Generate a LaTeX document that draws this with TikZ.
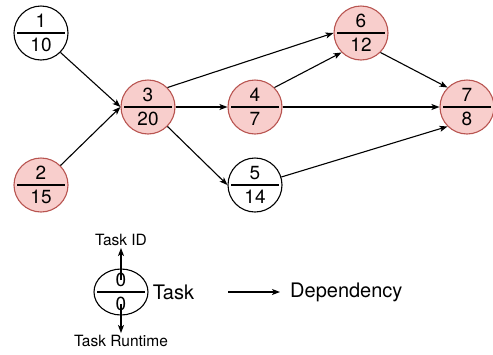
\documentclass[tikz,border=0pt]{standalone}
\usepackage{fontspec}
\setmainfont{TeX Gyre Heros}
\usetikzlibrary{arrows.meta,positioning,shapes.geometric}
\definecolor{critfill}{HTML}{F8CECC}
\definecolor{critline}{HTML}{B85450}
\tikzset{
  task/.style={draw,circle,minimum size=54pt,inner sep=0pt,line width=1.1pt},
  crittask/.style={task,fill=critfill,draw=critline},
  num/.style={inner sep=0pt,font=\fontsize{19}{19}\selectfont},
  dep/.style={-{Stealth[length=8pt,width=6pt,inset=2pt]},line width=1.1pt},
  smalltext/.style={inner sep=2pt,font=\fontsize{15.5}{15.5}\selectfont},
  bigtext/.style={inner sep=3pt,font=\fontsize{20}{20}\selectfont},
}
\begin{document}
\begin{tikzpicture}[x=1pt,y=-1pt]
  \useasboundingbox (0,0) rectangle (493,354);

  \foreach \id/\x/\y/\rt/\kind in {1/41/33/10/task, 2/41/185/15/crittask,
      3/148/107/20/crittask, 4/255/107/7/crittask, 5/255/185/14/task,
      6/361/33/12/crittask, 7/467/107/8/crittask}{
    \node[\kind] (t\id) at (\x,\y) {};
    \draw[line width=1.1pt] ([xshift=4pt]t\id.west) -- ([xshift=-4pt]t\id.east);
    \node[num] (id\id) at ([yshift=12pt]t\id.center) {\id};
    \node[num] (rt\id) at ([yshift=-11.5pt]t\id.center) {\rt};
  }

  \draw[dep] (t1.south east) -- (t3.west);
  \draw[dep] (t2.north east) -- (t3.west);
  \draw[dep] (t3.north east) -- (t6.west);
  \draw[dep] (t3.east) -- (t4.west);
  \draw[dep] (t3.south east) -- (t5.west);
  \draw[dep] (t4.north east) -- (t6.south west);
  \draw[dep] (t4.east) -- (t7.west);
  \draw[dep] (t6.south east) -- (t7.north west);
  \draw[dep] (t5) -- (t7.south west);

  \node[draw,ellipse,minimum width=54pt,minimum height=46pt,inner sep=0pt,line width=1.1pt] (lg) at (121,292) {};
  \draw[line width=1.1pt] ([xshift=4pt]lg.west) -- ([xshift=-4pt]lg.east);
  \node[num] (lgid) at ([yshift=12pt]lg.center) {0};
  \node[num] (lgrt) at ([yshift=-12pt]lg.center) {0};
  \node[smalltext] (idtext) at (121,240) {Task ID};
  \node[smalltext] (rttext) at (121,341) {Task Runtime};
  \draw[dep] (lgid.center) -- (idtext.south);
  \draw[dep] (lgrt.center) -- (rttext.north);
  \node[bigtext,right=1pt of lg] (tasktext) {Task};

  \coordinate (depa) at (228,292);
  \coordinate (depb) at (280,292);
  \draw[dep] (depa) -- (depb);
  \node[bigtext,right=7pt of depb] (deptext) {Dependency};
\end{tikzpicture}
\end{document}
